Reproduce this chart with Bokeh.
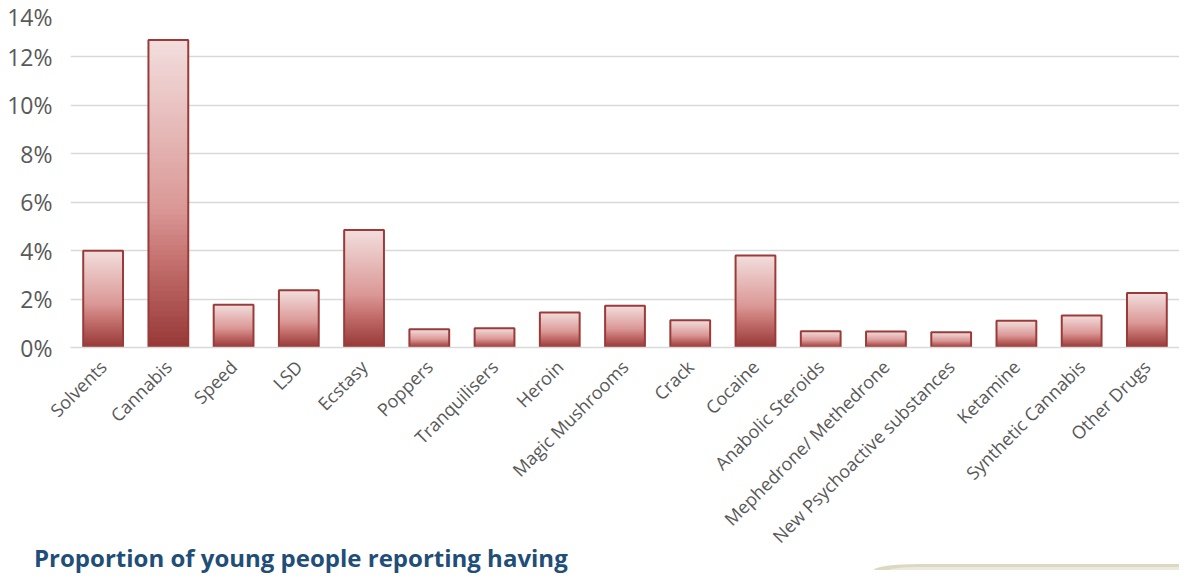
from math import pi
from bokeh.plotting import figure
from bokeh.layouts import column
from bokeh.models import (FactorRange, Range1d, NumeralTickFormatter, FixedTicker,
                          ColumnDataSource, Div)
from bokeh.embed import file_html
from bokeh.resources import INLINE

categories = ["Solvents", "Cannabis", "Speed", "LSD", "Ecstasy", "Poppers",
              "Tranquilisers", "Heroin", "Magic Mushrooms", "Crack", "Cocaine",
              "Anabolic Steroids", "Mephedrone/ Methedrone",
              "New Psychoactive substances", "Ketamine", "Synthetic Cannabis",
              "Other Drugs"]
values = [0.040, 0.127, 0.0177, 0.0236, 0.0485, 0.0075, 0.0080, 0.0145,
          0.0172, 0.0113, 0.0380, 0.0067, 0.0066, 0.0063, 0.0110, 0.0132, 0.0225]
y_ticks = [0, 0.02, 0.04, 0.06, 0.08, 0.10, 0.12, 0.14]
title_text = "Proportion of young people reporting having"

# gradient stops (fraction from bottom -> colour)
stops = [(0.0, (150, 56, 54)), (0.28, (196, 112, 110)), (0.45, (218, 152, 150)),
         (1.0, (242, 222, 221))]

def grad(t):
    for (a, ca), (b, cb) in zip(stops[:-1], stops[1:]):
        if a <= t <= b:
            f = (t - a) / (b - a)
            c = [int(round(ca[i] + (cb[i] - ca[i]) * f)) for i in range(3)]
            return "#%02x%02x%02x" % tuple(c)
    return "#%02x%02x%02x" % stops[-1][1]

N = 60
xs, bots, tops, cols = [], [], [], []
for i in range(N):
    for c, v in zip(categories, values):
        xs.append(c)
        bots.append(v * i / N)
        tops.append(v)
        cols.append(grad((i + 0.5) / N))
slices = ColumnDataSource(dict(x=xs, bottom=bots, top=tops, color=cols))

W, H = 1179, 566
p = figure(x_range=FactorRange(*categories, range_padding=0),
           y_range=Range1d(0, 0.14), width=W, height=H,
           output_backend="svg", toolbar_location=None,
           min_border_left=70, min_border_right=0, min_border_top=8,
           min_border_bottom=219)
p.outline_line_color = None
p.background_fill_color = "white"
p.border_fill_color = "white"

p.vbar(x="x", bottom="bottom", top="top", width=0.61, source=slices,
       fill_color="color", line_color=None)
p.vbar(x=categories, top=values, width=0.61, fill_alpha=0,
       line_color="#9a3b39", line_width=2)

p.xgrid.grid_line_color = None
p.ygrid.grid_line_color = "#d9d9d9"
p.ygrid.grid_line_width = 1.5
p.yaxis.ticker = FixedTicker(ticks=y_ticks)
p.yaxis.formatter = NumeralTickFormatter(format="0%")
for ax in (p.xaxis, p.yaxis):
    ax.axis_line_color = None
    ax.major_tick_line_color = None
    ax.minor_tick_line_color = None
    ax.major_label_text_color = "#595959"
    ax.major_label_text_font = "Open Sans"
p.yaxis.major_label_text_font_size = "23px"
p.yaxis.major_label_standoff = 12
p.xaxis.major_label_text_font_size = "18px"
p.xaxis.major_label_orientation = pi / 4
p.xaxis.major_label_standoff = 10
p.xaxis.axis_line_color = "#d9d9d9"
p.xaxis.axis_line_width = 1.5

TH = 32
html = (
    '<div style="position:relative;width:%dpx;height:%dpx;">'
    '<div style="position:absolute;left:34px;top:10px;font-family:\'Open Sans\';'
    'font-weight:bold;font-size:24px;line-height:28px;color:#1f4e79;'
    'white-space:nowrap;">%s</div>'
    '<div style="position:absolute;left:874px;top:30px;width:305px;height:6px;'
    'background:#ddd8c2;border-top-left-radius:45px 6px;"></div>'
    '<div style="position:absolute;left:890px;top:33px;width:289px;height:3px;'
    'background:#eceadf;border-top-left-radius:30px 3px;"></div>'
    '</div>' % (W, TH, title_text)
)
heading = Div(text=html, width=W, height=TH, margin=(-TH, 0, 0, 0))

layout = column(p, heading, spacing=0)
open("out.html", "w").write(file_html(layout, INLINE))
